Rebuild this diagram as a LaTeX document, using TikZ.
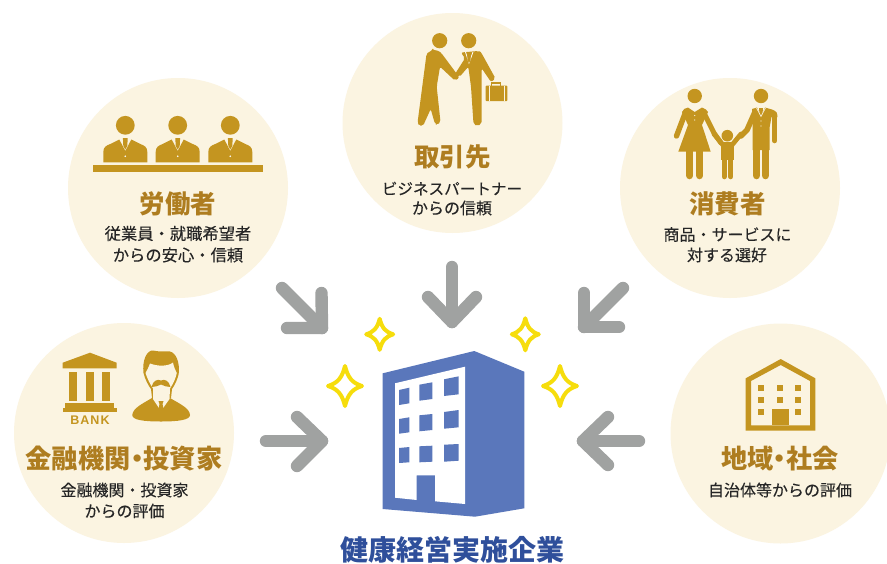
\documentclass[tikz,border=0pt]{standalone}
\usepackage{fontspec}
\setmainfont{Noto Sans CJK JP}
\newfontfamily\subfont{Noto Sans CJK JP}[FakeBold=0.2]
\newfontfamily\latinbold{Liberation Sans}[BoldFont={Liberation Sans Bold}]
\definecolor{cream}{HTML}{FBF4E1}
\definecolor{gold}{HTML}{C49520}
\definecolor{titlegold}{HTML}{AE7D20}
\definecolor{arrowgray}{HTML}{A0A2A1}
\definecolor{bldblue}{HTML}{5A77BB}
\definecolor{labelblue}{HTML}{2F4F9B}
\definecolor{spark}{HTML}{F6DD0C}
\tikzset{
  disc/.style={circle,fill=cream,draw=none,minimum size=220pt,inner sep=0pt},
  titletext/.style={font=\bfseries\fontsize{25.5}{25.5}\selectfont,text=titlegold,inner sep=0pt,anchor=center},
  widetitle/.style={font=\bfseries\fontsize{26.2}{26.2}\selectfont,text=titlegold,inner sep=0pt,anchor=center},
  subtext/.style={font=\subfont\fontsize{16}{16}\selectfont,text=black!85,inner sep=0pt,anchor=center},
  bigarrow/.style={draw=arrowgray,line width=12.4pt,line cap=round,line join=round},
  sparkline/.style={draw=spark,line width=4pt,line join=round,fill=white},
  goldfill/.style={fill=gold,draw=none},
  limb/.style={draw=gold,line cap=round,line join=round},
}
\newcommand{\sparkle}[4]{% name, center, rx, ry
  \coordinate (#1) at #2;
  \draw[sparkline,shift={(#1)}] (0,-#4) .. controls (0.18*#3,-0.38*#4) and (0.45*#3,-0.15*#4) .. (#3,0)
     .. controls (0.45*#3,0.15*#4) and (0.18*#3,0.38*#4) .. (0,#4)
     .. controls (-0.18*#3,0.38*#4) and (-0.45*#3,0.15*#4) .. (-#3,0)
     .. controls (-0.45*#3,-0.15*#4) and (-0.18*#3,-0.38*#4) .. cycle;}
\newcommand{\inarrow}[5]{% name, start, tip, arm a, arm b
  \coordinate (#1s) at #2; \coordinate (#1t) at #3; \coordinate (#1a) at #4; \coordinate (#1b) at #5;
  \draw[bigarrow] (#1s) -- (#1t);
  \draw[bigarrow] (#1a) -- (#1t) -- (#1b);}
\begin{document}
\begin{tikzpicture}[x=1pt,y=-1pt]
\useasboundingbox (0,0) rectangle (887,563);
\fill[white] (0,0) rectangle (887,563);
% discs
\node[disc] (worker) at (178,188) {};
\node[disc] (partner) at (452.5,123) {};
\node[disc] (consumer) at (730,188) {};
\node[disc] (finance) at (124,433) {};
\node[disc] (community) at (780.5,433.5) {};
% texts
\node[titletext] (t1) at (178,204) {労働者};
\node[subtext,font=\subfont\fontsize{16.3}{16.3}\selectfont] (t1a) at (178,233.5) {従業員・就職希望者};
\node[subtext,font=\subfont\fontsize{16.3}{16.3}\selectfont] (t1b) at (178,255) {からの安心・信頼};
\node[titletext] (t2) at (452.5,157) {取引先};
\node[subtext,font=\subfont\fontsize{15.6}{15.6}\selectfont] (t2a) at (452,188.5) {ビジネスパートナー};
\node[subtext] (t2b) at (452,208) {からの信頼};
\node[titletext] (t3) at (727.5,204) {消費者};
\node[subtext] (t3a) at (727.5,234.5) {商品・サービスに};
\node[subtext] (t3b) at (727,255) {対する選好};
\node[widetitle] (t4) at (124,459) {金融機関\kern-6.5pt・\kern-6.5pt投資家};
\node[subtext] (t4a) at (124.5,490) {金融機関・投資家};
\node[subtext] (t4b) at (124.5,511) {からの評価};
\node[widetitle] (t5) at (780,459) {地域\kern-6.5pt・\kern-6.5pt社会};
\node[subtext] (t5a) at (780,490) {自治体等からの評価};
\node[font=\bfseries\fontsize{28}{28}\selectfont,text=labelblue,inner sep=0pt] (t6) at (452.5,549.5) {健康経営実施企業};
% worker icon
\foreach \cx in {125.3,177.7,230.3}{
  \begin{scope}[shift={(\cx,0)}]
  \fill[gold] (0,125.3) circle (9.4);
  \fill[gold] (-22,162.3) -- (-22,152) .. controls (-22,147) and (-19,145.5) .. (-15,144) -- (-6,139.5) -- (0,151) -- (6,139.5) -- (15,144) .. controls (19,145.5) and (22,147) .. (22,152) -- (22,162.3) -- cycle;
  \fill[gold] (-2.4,138) -- (2.4,138) -- (2,146) -- (0,149.5) -- (-2,146) -- cycle;
  \fill[white] (0,156.2) circle (0.9);
  \end{scope}}
\fill[gold] (92.7,165.3) rectangle (263,172.3);
% partners icon
\fill[gold] (439.7,40.7) circle (7.6);
\fill[gold] (468.7,40.7) circle (7.6);
\fill[gold,rounded corners=2pt] (433,50.5) .. controls (428,51.5) and (426.5,54) .. (426,58) -- (417.5,123) -- (419,125.5) -- (423,126) -- (430.7,109) -- (435,124) -- (437.5,125) -- (440.5,122) -- (436.7,86.7) -- (440,66.7) -- (455,80.7) -- (459.5,77.5) -- (441.7,53.5) .. controls (439,51) and (436,50) .. (433,50.5) -- cycle;
\fill[gold,rounded corners=2pt] (461,52.5) -- (478,51) .. controls (480,51.5) and (481,52.5) .. (482,54) -- (495.5,78.5) -- (491,82) -- (481.7,68.3) -- (481.5,124) -- (477,126) -- (473.5,124) -- (471,86.7) -- (468.3,66.7) -- (459.5,77) -- (455,74) -- (465,58.3) -- cycle;
\draw[white,line width=0.8pt] (465.5,52) -- (469,63) -- (473,52);
\fill[gold] (467.2,52) -- (470.8,52) -- (470.6,60) -- (469,63) -- (467.4,60) -- cycle;
\fill[gold,rounded corners=0.7pt] (485.7,85.7) rectangle (507.3,101);
\draw[gold,line width=1.3pt] (491.8,86) -- (491.8,83) -- (500.5,83) -- (500.5,86);
\draw[cream,line width=0.8pt] (489,86) -- (489,101) (504,86) -- (504,101);
% family icon
\fill[gold] (694.7,96) circle (7.2);
\fill[gold] (761,96) circle (7.2);
\fill[gold] (727.3,135.7) circle (5.8);
% woman
\fill[gold] (688,107.5) -- (694.7,112) -- (702,107.5) .. controls (705,108.5) and (707,110) .. (708,112) -- (702,125) -- (710.7,151.7) -- (678.3,151.7) -- (688,125) -- (682,112) .. controls (683,110) and (685.5,108) .. (688,107.5) -- cycle;
\draw[limb,line width=5.4pt] (686,111) -- (676.5,136);
\draw[limb,line width=5pt] (703,111) -- (714,133) -- (721,143);
\draw[limb,line width=7.3pt] (689.6,150) -- (689.6,175.6);
\draw[limb,line width=7.3pt] (699.6,150) -- (699.6,175.6);
% child
\fill[gold] (720.5,142) -- (734,142) -- (734,160) -- (720.5,160) -- cycle;
\draw[limb,line width=4.8pt] (723,145) -- (714,134);
\draw[limb,line width=4.8pt] (732,145) -- (741,134);
\draw[limb,line width=5.2pt] (724.2,158) -- (724.2,176.7);
\draw[limb,line width=5.2pt] (730.8,158) -- (730.8,176.7);
% man
\fill[gold] (752,109) -- (757,107.5) -- (761,117) -- (765,107.5) -- (772,109.5) .. controls (776,111) and (777.5,113) .. (777.5,117) -- (771.5,117) -- (769.5,128) -- (769.5,150) -- (752.7,150) -- (752.7,126) -- cycle;
\draw[limb,line width=5.6pt] (755,112) -- (747,130) -- (741,136);
\draw[limb,line width=5.4pt] (774.6,114) -- (774.6,140.6);
\draw[limb,line width=7.6pt] (756.6,148) -- (756.6,175.5);
\draw[limb,line width=7.6pt] (765.5,148) -- (765.5,175.5);
\fill[gold] (759,108) -- (763,108) -- (762.6,113) -- (761,116) -- (759.4,113) -- cycle;
\draw[cream,line width=0.6pt] (756.5,108) -- (761,116.5) -- (765.5,108);
\fill[cream] (694.7,115.5) circle (0.7) (694.7,120) circle (0.7) (761,121) circle (0.7) (761,126) circle (0.7);
% bank icon
\fill[gold] (90,352.7) -- (116.7,362.7) -- (116.7,368.3) -- (62.7,368.3) -- (62.7,362.7) -- cycle;
\fill[gold] (69.3,372.3) rectangle (76.7,400.7);
\fill[gold] (86,372.3) rectangle (94,400.7);
\fill[gold] (102.3,372.3) rectangle (110.3,400.7);
\fill[gold] (65,402.7) rectangle (114.3,408);
\fill[gold] (62.7,408) rectangle (116.7,412);
\node[inner sep=0pt,text=gold,font=\latinbold\bfseries\fontsize{12.5}{12.5}\selectfont] (banktext) at (90,420) {B\kern1pt A\kern1pt N\kern1pt K};
% banker icon
\fill[gold] (132.3,415) .. controls (133,408) and (142,404) .. (152,398) -- (170,398) .. controls (180,404) and (189.5,408) .. (190,415) .. controls (190,420) and (178,421.5) .. (161,421.5) .. controls (144,421.5) and (132,420) .. (132.3,415) -- cycle;
\fill[gold] (143.5,373) .. controls (142,360) and (147,350) .. (153,350.5) .. controls (158,352) and (165,351) .. (170,351.5) .. controls (176,353) and (180,362) .. (178.7,374) .. controls (177.5,379) and (175,385) .. (172,389) -- (171,398) -- (152,398) -- (151,389) .. controls (148,385) and (145,379) .. (143.5,373) -- cycle;
\fill[cream] (145.5,373) .. controls (147,370) and (149,367) .. (150,363.5) .. controls (158,366.5) and (168,366.5) .. (173,362.5) .. controls (174,367) and (175,370) .. (176.8,373) .. controls (175.5,379) and (173,384) .. (170,388.5) -- (169.5,399) -- (161,411) -- (153,399) -- (153,388.5) .. controls (150,384) and (147.5,379) .. (145.5,373) -- cycle;
\fill[gold] (161,380.5) .. controls (157,378.5) and (153,381) .. (151.5,387) .. controls (155,387) and (158,386) .. (161,384.5) .. controls (164,386) and (167,387) .. (170.5,387) .. controls (169,381) and (165,378.5) .. (161,380.5) -- cycle;
\fill[gold] (158.5,401) -- (163.5,401) -- (162.5,404) -- (163.5,409) -- (161,412) -- (158.5,409) -- (159.5,404) -- cycle;
% house icon
\fill[gold,even odd rule] (745.7,378.3) -- (780.7,359) -- (815.3,378.3) -- (815.3,430.7) -- (745.7,430.7) -- cycle
  (751,381) -- (780.7,365) -- (810,381) -- (810,425.3) -- (751,425.3) -- cycle;
\foreach \wx in {761.3,780.3,798.3}{\foreach \wy in {387.7,399.7}{\fill[gold] (\wx-3,\wy-3) rectangle (\wx+3,\wy+3);}}
\fill[gold] (758.3,408.7) rectangle (764.3,414.7);
\fill[gold] (795.3,408.7) rectangle (801.3,414.7);
\fill[gold] (772,408.7) rectangle (789,425.3);
% building
\fill[bldblue] (382.7,373.3) -- (474.3,351) -- (524.3,371.7) -- (524.3,508.3) -- (475,516.7) -- (382.7,509) -- cycle;
\fill[white] (395,383.3) -- (465,366.7) -- (465,504) -- (435,501.3) -- (435,475.3) -- (416.7,475.3) -- (416.7,500) -- (395,497.7) -- cycle;
\fill[bldblue] (399,390) -- (409.3,387.7) -- (409.3,403.3) -- (399,405) -- cycle;
\fill[bldblue] (419.3,384.7) -- (432.3,382.3) -- (432.3,399) -- (419.3,400.7) -- cycle;
\fill[bldblue] (444,379.3) -- (458.7,376.3) -- (458.7,394.3) -- (444,396) -- cycle;
\fill[bldblue] (399,419) -- (409.3,417.3) -- (409.3,432.3) -- (399,433.7) -- cycle;
\fill[bldblue] (419.3,415.3) -- (432.3,414) -- (432.3,430) -- (419.3,431.3) -- cycle;
\fill[bldblue] (444,412) -- (458.7,410) -- (458.7,427.3) -- (444,428.7) -- cycle;
\fill[bldblue] (399,448) -- (409.3,447) -- (409.3,462.3) -- (399,463) -- cycle;
\fill[bldblue] (419.3,446.3) -- (432.3,445.7) -- (432.3,461.7) -- (419.3,462.3) -- cycle;
\fill[bldblue] (444,444.7) -- (458.7,444) -- (458.7,460.7) -- (444,461.7) -- cycle;
% arrows
\inarrow{aTL}{(282,288)}{(322,328)}{(321.5,293)}{(287,328)}
\inarrow{aT}{(452,267)}{(452,322)}{(428,297)}{(476,297)}
\inarrow{aTR}{(623,288)}{(584,327)}{(584,293)}{(619,327)}
\inarrow{aL}{(266,441)}{(322,441)}{(297,417)}{(297,466)}
\inarrow{aR}{(639,441)}{(583,441)}{(608,417)}{(608,465)}
% sparkles
\sparkle{s1}{(379.7,334.3)}{13.5}{15.5}
\sparkle{s2}{(345,386)}{17}{20}
\sparkle{s3}{(525.3,334.3)}{13.5}{16}
\sparkle{s4}{(560,386)}{17}{20}
\end{tikzpicture}
\end{document}
